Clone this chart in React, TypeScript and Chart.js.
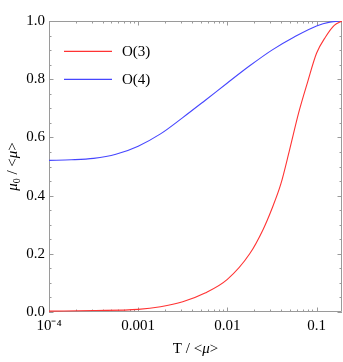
import React, { useEffect, useRef } from "react";
import { Chart, registerables } from "chart.js";

Chart.register(...registerables);

const seriesNames = ["O(3)", "O(4)"];
const o3X = [1e-4, 3.16e-4, 1e-3, 1.78e-3, 3.16e-3, 5.62e-3, 0.01, 0.0178, 0.0251, 0.0316, 0.0398, 0.0501, 0.0631, 0.0794, 0.1, 0.126, 0.158, 0.193];
const o3Y = [0.003, 0.005, 0.009, 0.018, 0.035, 0.065, 0.112, 0.2, 0.283, 0.355, 0.44, 0.56, 0.685, 0.79, 0.889, 0.945, 0.985, 1.0];
const o4X = [1e-4, 1.78e-4, 3.16e-4, 5.62e-4, 1e-3, 1.78e-3, 3.16e-3, 5.62e-3, 0.01, 0.0178, 0.0316, 0.0562, 0.1, 0.141, 0.193];
const o4Y = [0.521, 0.523, 0.528, 0.542, 0.57, 0.612, 0.668, 0.727, 0.787, 0.846, 0.9, 0.945, 0.983, 0.996, 1.0];
const xTickValues = [1e-4, 1e-3, 1e-2, 1e-1];
const xTickLabels = ["10\u207B\u2074", "0.001", "0.01", "0.1"];
const yTickValues = [0, 0.2, 0.4, 0.6, 0.8, 1.0];
const yTickLabels = ["0.0", "0.2", "0.4", "0.6", "0.8", "1.0"];
const xMin = 1e-4;
const xMax = 0.193;

const colors = ["#ff3333", "#4646ff"];
const FONT = "'Liberation Serif', 'Times New Roman', serif";
const frameColor = "#9a9a9a";

const decorPlugin = {
  id: "decor",
  beforeDatasetsDraw(chart: any) {
    const { ctx, chartArea: a, scales } = chart;
    const xs = scales.x;
    const ys = scales.y;
    ctx.save();
    ctx.strokeStyle = frameColor;
    ctx.lineWidth = 1;
    ctx.beginPath();
    ctx.rect(Math.round(a.left) + 0.5, Math.round(a.top) + 0.5, Math.round(a.right - a.left) - 1, Math.round(a.bottom - a.top) - 1);
    ctx.stroke();
    ctx.beginPath();
    for (let d = -4; d <= -1; d++) {
      for (let m = 1; m <= 9; m++) {
        const v = m * Math.pow(10, d);
        if (v < xMin * 0.999 || v > xMax) continue;
        const px = Math.round(xs.getPixelForValue(v)) + 0.5;
        const len = m === 1 ? 4.5 : 2.5;
        ctx.moveTo(px, a.bottom);
        ctx.lineTo(px, a.bottom - len);
        ctx.moveTo(px, a.top);
        ctx.lineTo(px, a.top + len);
      }
    }
    for (let i = 0; i <= 20; i++) {
      const v = i * 0.05;
      const py = Math.round(ys.getPixelForValue(v)) + 0.5;
      const len = i % 4 === 0 ? 4.5 : 2.5;
      ctx.moveTo(a.left, py);
      ctx.lineTo(a.left + len, py);
      ctx.moveTo(a.right, py);
      ctx.lineTo(a.right - len, py);
    }
    ctx.stroke();
    ctx.restore();
  },
  afterDraw(chart: any) {
    const { ctx, chartArea: a } = chart;
    ctx.save();
    const legendY = [51, 79];
    seriesNames.forEach((name, i) => {
      ctx.strokeStyle = colors[i];
      ctx.lineWidth = 1.3;
      ctx.beginPath();
      ctx.moveTo(64, legendY[i] + 0.3);
      ctx.lineTo(112, legendY[i] + 0.3);
      ctx.stroke();
      ctx.fillStyle = "#000";
      ctx.font = `15px ${FONT}`;
      ctx.textBaseline = "middle";
      ctx.textAlign = "left";
      ctx.fillText(name, 122, legendY[i] + 1);
    });
    const drawParts = (parts: [string, string][], x: number, y: number) => {
      let total = 0;
      const widths = parts.map(([t, f]) => {
        ctx.font = f;
        const w = ctx.measureText(t).width;
        total += w;
        return w;
      });
      let cx = x - total / 2;
      parts.forEach(([t, f], i) => {
        ctx.font = f;
        const dy = f.startsWith("10px") ? 3 : 0;
        ctx.fillText(t, cx, y + dy);
        cx += widths[i];
      });
    };
    ctx.fillStyle = "#000";
    ctx.textBaseline = "alphabetic";
    ctx.textAlign = "left";
    const cxT = (a.left + a.right) / 2;
    drawParts(
      [["T / <", `15px ${FONT}`], ["\u03BC", `italic 15px ${FONT}`], [">", `15px ${FONT}`]],
      cxT,
      353
    );
    ctx.translate(17, (a.top + a.bottom) / 2);
    ctx.rotate(-Math.PI / 2);
    drawParts(
      [
        ["\u03BC", `italic 15px ${FONT}`],
        ["0", `10px ${FONT}`],
        [" / <", `15px ${FONT}`],
        ["\u03BC", `italic 15px ${FONT}`],
        [">", `15px ${FONT}`],
      ],
      0,
      0
    );
    ctx.restore();
  },
};

export default function App() {
  const ref = useRef<HTMLCanvasElement | null>(null);
  useEffect(() => {
    document.body.style.margin = "0";
    if (!ref.current) return;
    const chart = new Chart(ref.current, {
      type: "line",
      data: {
        datasets: [
          {
            label: seriesNames[0],
            data: o3X.map((x, i) => ({ x, y: o3Y[i] })),
            borderColor: colors[0],
            borderWidth: 1.1,
            pointRadius: 0,
            cubicInterpolationMode: "monotone",
            fill: false,
          },
          {
            label: seriesNames[1],
            data: o4X.map((x, i) => ({ x, y: o4Y[i] })),
            borderColor: colors[1],
            borderWidth: 1.1,
            pointRadius: 0,
            cubicInterpolationMode: "monotone",
            fill: false,
          },
        ],
      },
      options: {
        animation: false,
        responsive: true,
        maintainAspectRatio: false,
        layout: { padding: { left: 0, top: 21, right: 1, bottom: 0 } },
        plugins: { legend: { display: false }, tooltip: { enabled: false } },
        scales: {
          x: {
            type: "logarithmic",
            min: xMin,
            max: xMax,
            grid: { display: false, drawTicks: false },
            border: { display: false },
            afterBuildTicks: (s: any) => {
              s.ticks = xTickValues.map((v) => ({ value: v }));
            },
            afterFit: (s: any) => {
              s.height = 50;
            },
            ticks: {
              autoSkip: false,
              maxRotation: 0,
              padding: 5,
              color: "#000",
              font: { family: FONT, size: 15 },
              callback: (_v: any, i: number) => xTickLabels[i],
            },
          },
          y: {
            type: "linear",
            min: 0,
            max: 1,
            grid: { display: false, drawTicks: false },
            border: { display: false },
            afterBuildTicks: (s: any) => {
              s.ticks = yTickValues.map((v) => ({ value: v }));
            },
            afterFit: (s: any) => {
              s.width = 49;
            },
            ticks: {
              padding: 4,
              color: "#000",
              font: { family: FONT, size: 15 },
              callback: (_v: any, i: number) => yTickLabels[i],
            },
          },
        },
      } as any,
      plugins: [decorPlugin],
    });
    return () => chart.destroy();
  }, []);
  return (
    <div style={{ position: "absolute", left: 0, top: 0, width: 343, height: 362, background: "#fff" }}>
      <canvas ref={ref} />
    </div>
  );
}
